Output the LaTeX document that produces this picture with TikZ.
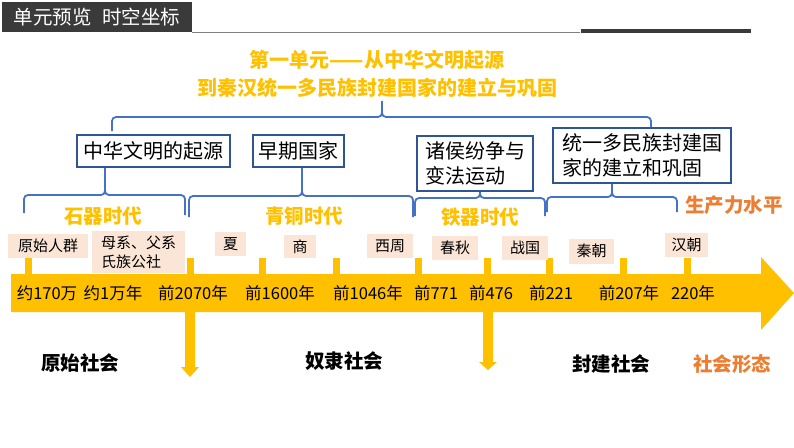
\documentclass[tikz,border=0pt]{standalone}
\usepackage{fontspec}
\setmainfont{Noto Sans CJK SC}
\usepackage{tikz}
\usetikzlibrary{positioning}
\usepackage{xcolor}
\definecolor{gold}{RGB}{255,192,0}
\definecolor{deeporange}{RGB}{237,125,49}
\definecolor{boxblue}{RGB}{47,85,151}
\definecolor{braceblue}{RGB}{68,114,196}
\definecolor{peach}{RGB}{251,229,214}
\definecolor{darkbar}{RGB}{58,58,58}

\tikzset{
  topicbox/.style={rectangle, draw=boxblue, line width=1.2pt, fill=white, inner sep=4pt,
    font=\fontsize{20}{25}\selectfont},
  periodbox/.style={rectangle, fill=peach, inner sep=3pt, font=\fontsize{15}{19}\selectfont},
  agelabel/.style={text=gold, font=\bfseries\fontsize{19.5}{22}\selectfont},
  datelabel/.style={font=\fontsize{16.5}{20}\selectfont},
  societylabel/.style={font=\bfseries\fontsize{19.5}{22}\selectfont},
  brace/.style={draw=braceblue, line width=1.8pt, rounded corners=4pt},
  tick/.style={fill=gold, draw=none}
}

\begin{document}
\begin{tikzpicture}[x=1pt, y=-1pt]
    \useasboundingbox (0,0) rectangle (794,447);

    % Header
    \fill[darkbar] (2,2) rectangle (192,32);
    \node[text=white, font=\fontsize{19.5}{22}\selectfont] (header) at (97,17) {单元预览\hspace{0.55em}时空坐标};
    \draw[gray, line width=0.8pt] (192,32) -- (580,32);
    \draw[darkbar, line width=4pt] (581,31) -- (751,31);

    % Unit title
    \node[text=gold, font=\bfseries\fontsize{20}{28}\selectfont, align=center] (unit) at (377,74)
      {第一单元——从中华文明起源\\到秦汉统一多民族封建国家的建立与巩固};

    % Big brace
    \draw[brace] (112,131) -- (112,117) -- (382,117) -- (382,101);
    \draw[brace] (651,128) -- (651,117) -- (382,117) -- (382,101);

    % Topic boxes
    \node[topicbox, minimum width=153, minimum height=32] (origin) at (153.5,151) {中华文明的起源};
    \node[topicbox, minimum width=91, minimum height=32] (early) at (298.5,151) {早期国家};
    \node[topicbox, minimum width=116, minimum height=55, align=left] (reform) at (475,163.5) {诸侯纷争与\\变法运动};
    \node[topicbox, minimum width=178, minimum height=55, align=left] (unify) at (642,155.5) {统一多民族封建国\\家的建立和巩固};

    % Small braces
    \draw[brace] (24,213) -- (24,195) -- (105,195) -- (105,168);
    \draw[brace] (185,215) -- (185,195) -- (105,195) -- (105,168);
    \draw[brace] (189,217) -- (189,196) -- (302,196) -- (302,168);
    \draw[brace] (413,217) -- (413,196) -- (302,196) -- (302,168);
    \draw[brace] (415,216) -- (415,198) -- (480,198) -- (480,192);
    \draw[brace] (545,216) -- (545,198) -- (480,198) -- (480,192);
    \draw[brace] (547,212) -- (547,197) -- (612,197) -- (612,184);
    \draw[brace] (677,212) -- (677,197) -- (612,197) -- (612,184);

    % Ages
    \node[agelabel] (stone) at (103,216) {石器时代};
    \node[agelabel] (bronze) at (304,216) {青铜时代};
    \node[agelabel] (iron) at (480,217) {铁器时代};
    \node[text=deeporange, font=\bfseries\fontsize{19.5}{22}\selectfont] (productivity) at (734,205) {生产力水平};

    % Main arrow
    \fill[gold] (11,274) -- (761,274) -- (761,257) -- (794,293) -- (761,330) -- (761,312) -- (11,312) -- cycle;

    % Ticks
    \foreach \x in {28,190,262,336,418,487,549,623,687}
      \fill[tick] (\x-3.5,258) rectangle (\x+3.5,275);

    % Periods
    \node[periodbox, minimum width=80, minimum height=24] (horde) at (48,246) {原始人群};
    \node[periodbox, minimum width=93, minimum height=42, align=left] (clan) at (138.5,252) {母系、父系\\氏族公社};
    \node[periodbox, minimum width=31, minimum height=24] (xia) at (230.5,244) {夏};
    \node[periodbox, minimum width=32, minimum height=23] (shang) at (300,246.5) {商};
    \node[periodbox, minimum width=46, minimum height=24] (xizhou) at (390,246) {西周};
    \node[periodbox, minimum width=46, minimum height=24] (chunqiu) at (455,248) {春秋};
    \node[periodbox, minimum width=46, minimum height=24] (zhanguo) at (525,248) {战国};
    \node[periodbox, minimum width=45, minimum height=25] (qin) at (591.5,251) {秦朝};
    \node[periodbox, minimum width=43, minimum height=24] (han) at (686.5,245) {汉朝};

    % Dates
    \node[datelabel] (d1) at (47,293) {约170万};
    \node[datelabel] (d2) at (113,293) {约1万年};
    \node[datelabel] (d3) at (193,293) {前2070年};
    \node[datelabel] (d4) at (280,293) {前1600年};
    \node[datelabel] (d5) at (368,293) {前1046年};
    \node[datelabel] (d6) at (436,293) {前771};
    \node[datelabel] (d7) at (491,293) {前476};
    \node[datelabel] (d8) at (551,293) {前221};
    \node[datelabel] (d9) at (629,293) {前207年};
    \node[datelabel] (d10) at (693,293) {220年};

    % Down arrows
    \fill[gold] (185,312) -- (195,312) -- (195,367) -- (199,367) -- (190,377) -- (181,367) -- (185,367) -- cycle;
    \fill[gold] (483,312) -- (493,312) -- (493,362) -- (497,362) -- (488,370) -- (479,362) -- (483,362) -- cycle;

    % Societies
    \node[societylabel] (primitive) at (80,363) {原始社会};
    \node[societylabel] (slave) at (344,361) {奴隶社会};
    \node[societylabel] (feudal) at (611,364) {封建社会};
    \node[text=deeporange, font=\bfseries\fontsize{19.5}{22}\selectfont] (society) at (732,364) {社会形态};
\end{tikzpicture}
\end{document}
